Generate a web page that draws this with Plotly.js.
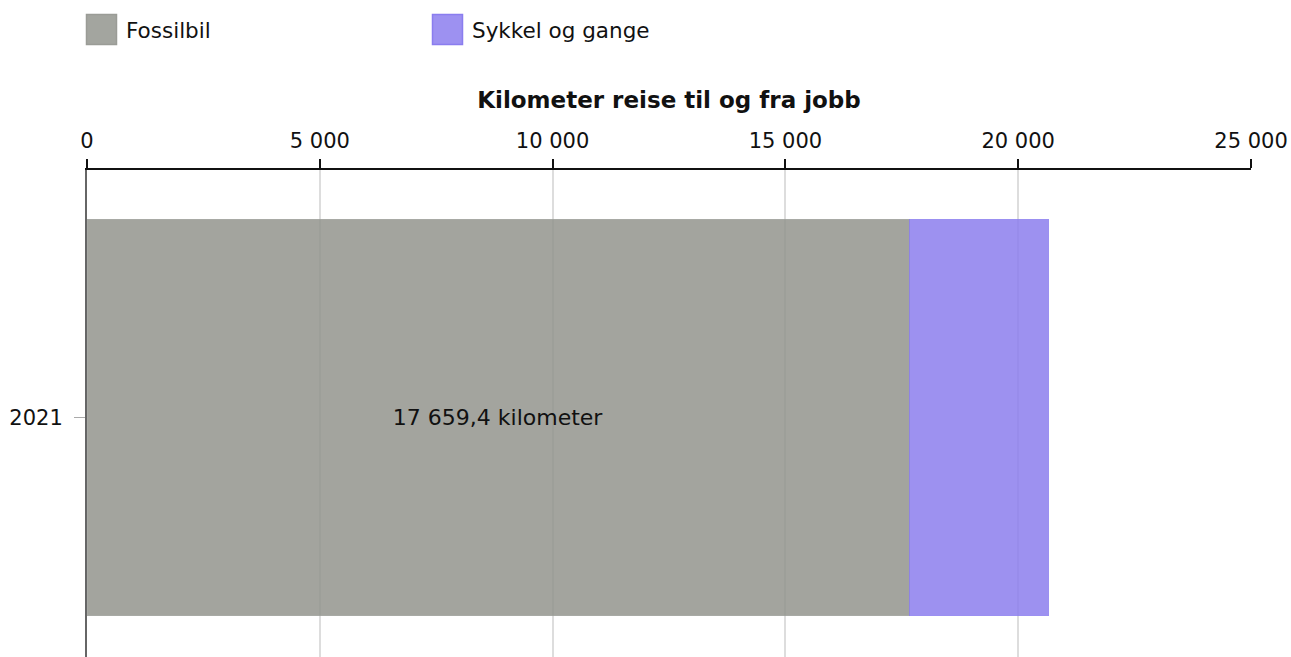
<!DOCTYPE html>
<html>
<head>
<meta charset="utf-8">
<script src="https://cdn.plot.ly/plotly-3.0.1.min.js"></script>
<style>
  html, body { margin: 0; padding: 0; overflow: hidden; background: #fff; }
  #chart { width: 1291px; height: 665px; }
</style>
</head>
<body>
<div id="chart"></div>
<script>
// ---- Data ----
const categories = ['2021'];
const seriesNames = ['Fossilbil', 'Sykkel og gange'];
const fossilbil = [17659.4];
const sykkelOgGange = [3000];
const xTickVals = [0, 5000, 10000, 15000, 20000, 25000];
const xAxisTitle = 'Kilometer reise til og fra jobb';
const unitLabel = 'kilometer';

// ---- Styles ----
const FONT = 'DejaVu Sans, Verdana, sans-serif';
const fillColors = ['#93958e', '#8c7eee'];   // drawn at 0.85 opacity
const legendColors = ['#a3a59f', '#9d91f1'];
const edgeColors = ['#9a9c96', '#8a7def'];
const legendOffsets = [0, 346];              // px from plot left edge

const traces = [
  {
    type: 'bar', orientation: 'h', name: seriesNames[0],
    y: categories, x: fossilbil,
    marker: { color: fillColors[0], opacity: 0.85, line: { color: edgeColors[0], width: 1 } },
    texttemplate: '%{x:,.1f} ' + unitLabel,
    textposition: 'inside', insidetextanchor: 'middle',
    textfont: { family: FONT, size: 22, color: '#111' },
    showlegend: false, hoverinfo: 'x+name'
  },
  {
    type: 'bar', orientation: 'h', name: seriesNames[1],
    y: categories, x: sykkelOgGange,
    marker: { color: fillColors[1], opacity: 0.85, line: { color: edgeColors[1], width: 1 } },
    textposition: 'none',
    showlegend: false, hoverinfo: 'x+name'
  }
];

const shapes = [];
const annotations = [];
seriesNames.forEach((nm, i) => {
  shapes.push({
    type: 'rect', xref: 'paper', yref: 'paper',
    xsizemode: 'pixel', ysizemode: 'pixel',
    xanchor: 0, yanchor: 1,
    x0: legendOffsets[i] - 0.5, x1: legendOffsets[i] + 29.5,
    y0: 125.5, y1: 155.5,
    fillcolor: legendColors[i], line: { color: edgeColors[i], width: 1.5 }
  });
  annotations.push({
    xref: 'paper', yref: 'paper', x: 0, y: 1,
    xshift: legendOffsets[i] + 37, yshift: 140,
    xanchor: 'left', yanchor: 'middle', showarrow: false,
    text: nm, font: { family: FONT, size: 21.5, color: '#111' }
  });
});

const layout = {
  width: 1291, height: 665,
  margin: { l: 87, r: 40, t: 170, b: 0, pad: 0 },
  paper_bgcolor: '#fff', plot_bgcolor: '#fff',
  font: { family: FONT, size: 21, color: '#111' },
  separators: ', ',
  barmode: 'stack', bargap: 0.2,
  showlegend: false,
  xaxis: {
    side: 'top', range: [0, 25000], tickvals: xTickVals, tickformat: ',d',
    showline: true, linecolor: '#111', linewidth: 2,
    ticks: 'outside', ticklen: 9, tickwidth: 2, tickcolor: '#111',
    ticklabelstandoff: 3,
    showgrid: true, gridcolor: '#dddddd', gridwidth: 2, zeroline: false,
    tickfont: { family: FONT, size: 21, color: '#111' },
    title: { text: '<b>' + xAxisTitle + '</b>', font: { family: FONT, size: 23, color: '#111' }, standoff: 14 },
    fixedrange: true
  },
  yaxis: {
    type: 'category',
    showline: true, linecolor: '#666', linewidth: 2,
    ticks: 'outside', ticklen: 11, tickwidth: 1.5, tickcolor: '#aaa',
    ticklabelstandoff: 7,
    showgrid: false, zeroline: false,
    tickfont: { family: FONT, size: 21, color: '#111' },
    fixedrange: true
  },
  shapes: shapes,
  annotations: annotations
};

Plotly.newPlot('chart', traces, layout, { displayModeBar: false, staticPlot: true });
</script>
</body>
</html>
